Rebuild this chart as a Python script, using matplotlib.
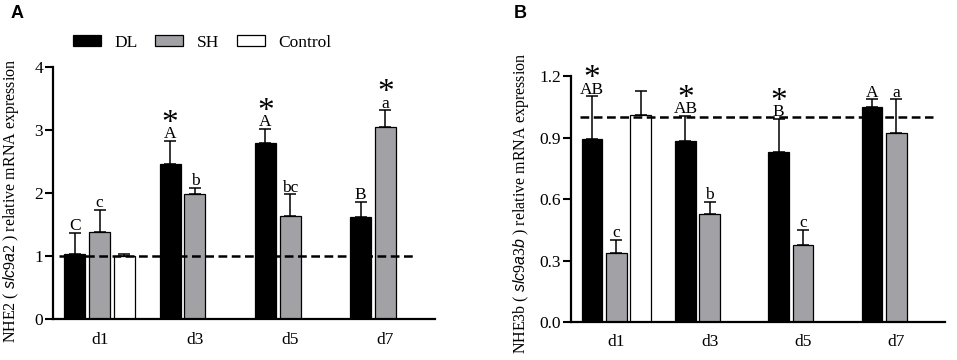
import numpy as np
import matplotlib
matplotlib.use("Agg")
import matplotlib.pyplot as plt
from matplotlib.patches import Patch

plt.rcParams["font.family"] = ["Liberation Serif", "DejaVu Serif"]
plt.rcParams["mathtext.fontset"] = "custom"
plt.rcParams["mathtext.it"] = "Liberation Sans:italic"
plt.rcParams["mathtext.rm"] = "Liberation Serif"

days = ["d1", "d3", "d5", "d7"]

# panel A: NHE2 (slc9a2)
a_dl = [1.03, 2.46, 2.80, 1.62]
a_dl_err = [0.34, 0.37, 0.22, 0.24]
a_sh = [1.39, 1.98, 1.64, 3.05]
a_sh_err = [0.34, 0.10, 0.34, 0.26]
a_ctrl = [1.00]
a_ctrl_err = [0.03]
a_dl_letters = ["C", "A", "A", "B"]
a_sh_letters = ["c", "b", "bc", "a"]
a_dl_star = [False, True, True, False]
a_sh_star = [False, False, False, True]

# panel B: NHE3b (slc9a3b)
b_dl = [0.891, 0.884, 0.828, 1.047]
b_dl_err = [0.21, 0.122, 0.162, 0.039]
b_sh = [0.335, 0.527, 0.376, 0.923]
b_sh_err = [0.065, 0.058, 0.073, 0.163]
b_ctrl = [1.01]
b_ctrl_err = [0.118]
b_dl_letters = ["AB", "AB", "B", "A"]
b_sh_letters = ["c", "b", "c", "a"]
b_dl_star = [True, True, True, False]
b_sh_star = [False, False, False, False]

gray = "#a2a2a6"
slot = 0.26
width = 0.22


def draw_bars(ax, xs, vals, errs, color):
    ax.bar(xs, vals, width=width, color=color, edgecolor="black", linewidth=0.9, zorder=2)
    ax.errorbar(xs, vals, yerr=[np.zeros(len(vals)), errs], fmt="none", ecolor="black",
                elinewidth=1.1, capsize=4, capthick=1.1, zorder=1)


def label_bars(ax, xs, vals, errs, letters, stars):
    for x, v, e, t, s in zip(xs, vals, errs, letters, stars):
        top = v + e
        ax.annotate(t, xy=(x, top), xytext=(0, 2), textcoords="offset points",
                    ha="center", va="baseline", fontsize=12.5)
        if s:
            ax.annotate("*", xy=(x, top), xytext=(0, 6.5), textcoords="offset points",
                        ha="center", va="baseline", fontsize=24)


def panel(ax, dl, dl_err, sh, sh_err, ctrl, ctrl_err, dl_l, sh_l, dl_s, sh_s,
          ylim, yticks, yfmt, ylabel, dash_span):
    x = np.arange(len(days))
    draw_bars(ax, x - slot, dl, dl_err, "black")
    draw_bars(ax, x, sh, sh_err, gray)
    draw_bars(ax, x[:len(ctrl)] + slot, ctrl, ctrl_err, "white")
    label_bars(ax, x - slot, dl, dl_err, dl_l, dl_s)
    label_bars(ax, x, sh, sh_err, sh_l, sh_s)
    ax.axhline(1.0, xmin=dash_span[0], xmax=dash_span[1], color="black",
               linewidth=1.8, dashes=(3.5, 1.8), zorder=5)
    ax.set_xlim(-0.49, 3.52)
    ax.set_ylim(*ylim)
    ax.set_yticks(yticks)
    ax.set_yticklabels([yfmt.format(t) for t in yticks], fontsize=12.5)
    ax.set_xticks(x)
    ax.set_xticklabels(days, fontsize=12.5)
    ax.tick_params(axis="x", length=0, pad=9)
    ax.tick_params(axis="y", length=6, width=1.5, pad=1, direction="out")
    for s in ["top", "right"]:
        ax.spines[s].set_visible(False)
    for s in ["left", "bottom"]:
        ax.spines[s].set_linewidth(1.6)
    ax.set_ylabel(ylabel, fontsize=11.5)


fig = plt.figure(figsize=(9.57, 3.6), dpi=100)
ax1 = fig.add_axes([0.0554, 0.113, 0.399, 0.701])
ax2 = fig.add_axes([0.5963, 0.1056, 0.391, 0.683])

panel(ax1, a_dl, a_dl_err, a_sh, a_sh_err, a_ctrl, a_ctrl_err,
      a_dl_letters, a_sh_letters, a_dl_star, a_sh_star,
      (0, 4), [0, 1, 2, 3, 4], "{:.0f}",
      r"NHE2 ( $\it{slc9a2}$ ) relative mRNA expression", (0.015, 0.948))
ax1.yaxis.set_label_coords(-0.085, 0.47)

panel(ax2, b_dl, b_dl_err, b_sh, b_sh_err, b_ctrl, b_ctrl_err,
      b_dl_letters, b_sh_letters, b_dl_star, b_sh_star,
      (0, 1.2), [0, 0.3, 0.6, 0.9, 1.2], "{:.1f}",
      r"NHE3b ( $\it{slc9a3b}$ ) relative mRNA expression", (0.025, 0.968))
ax2.yaxis.set_label_coords(-0.107, 0.484)

handles = [Patch(facecolor="black", edgecolor="black", linewidth=0.9),
           Patch(facecolor=gray, edgecolor="black", linewidth=0.9),
           Patch(facecolor="white", edgecolor="black", linewidth=0.9)]
fig.legend(handles, ["DL", "SH", "Control"], loc="center left",
           bbox_to_anchor=(0.060, 1 - 43 / 360), ncol=3, frameon=False,
           fontsize=12.5, handlelength=1.6, handleheight=0.6,
           handletextpad=0.8, columnspacing=1.0)

fig.text(0.011, 0.985, "A", fontsize=13, fontweight="bold", family="Liberation Sans", va="top")
fig.text(0.537, 0.985, "B", fontsize=13, fontweight="bold", family="Liberation Sans", va="top")

fig.savefig("out.png", dpi=100)
